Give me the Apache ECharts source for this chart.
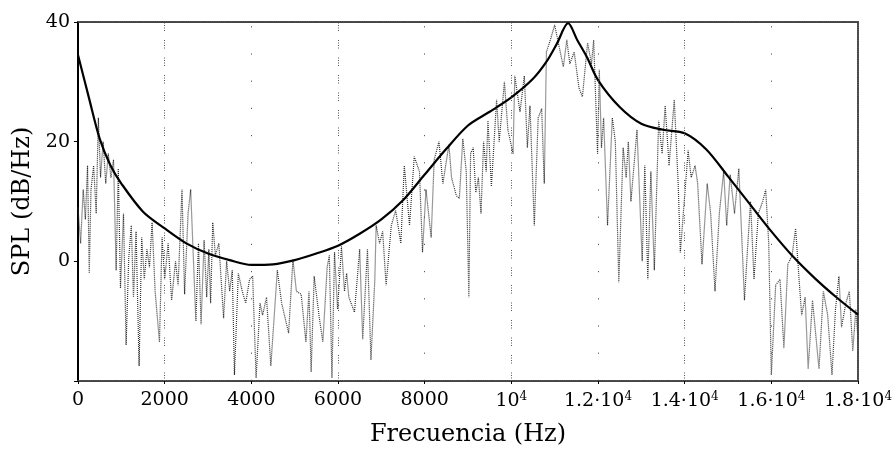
<!DOCTYPE html>
<html>
<head>
<meta charset="utf-8">
<script src="https://cdn.jsdelivr.net/npm/echarts@6/dist/echarts.min.js"></script>
<style>html,body{margin:0;padding:0;background:#fff}#c{width:896px;height:458px}</style>
</head>
<body>
<div id="c"></div>
<script>
// Smooth envelope (black curve)
const envHz = [0,250,500,750,1000,1500,2000,2500,3000,3500,4000,4500,5000,5500,6000,6500,7000,7500,8000,8500,9000,9500,10000,10500,10815,11046,11310,11520,11740,12000,12500,13000,13500,14000,14500,15000,15500,16000,16500,17000,17500,18000];
const envDb = [34.5,27.4,20.5,16,13,8.3,5.5,3,1.3,0.2,-0.6,-0.5,0.2,1.3,2.6,4.6,7,10.2,14.5,18.8,22.7,25,27.4,30.5,33.4,36.3,39.8,37,34.2,30.3,25.8,23,22,21.4,18.7,14.2,9.6,5,0.8,-2.8,-6,-8.9];

// Noisy measured spectrum (grey dotted)
const noiseHz = [0,60,120,170,220,260,300,360,420,470,520,580,640,700,760,820,880,930,980,1050,1110,1170,1230,1280,1340,1410,1470,1530,1590,1650,1710,1780,1880,1940,2000,2080,2160,2250,2310,2400,2460,2540,2600,2720,2780,2840,2910,2970,
3020,3060,3110,3170,3250,3360,3430,3500,3560,3610,3700,3790,3870,3960,4030,4110,4200,4260,4350,4450,4520,4600,4700,4780,4860,4960,5040,5150,5260,5330,5380,5450,5570,5650,5750,5800,5860,5920,
5990,6080,6150,6200,6250,6380,6500,6570,6680,6760,6850,6880,6960,7030,7110,7230,7330,7450,7530,7650,7760,7880,7950,8030,8150,8220,8330,8420,8560,8620,8730,8800,8880,8960,9020,
9060,9120,9180,9240,9300,9360,9420,9460,9540,9660,9720,9840,9920,10040,10080,10200,10300,10370,10430,10530,10620,10700,10760,10810,10900,11000,11100,11200,11280,11350,11450,11560,11640,11760,11850,11900,11990,
12030,12080,12130,12220,12330,12400,12480,12580,12650,12700,12760,12900,13020,13080,13150,13220,13300,13400,13480,13550,13640,13760,13850,13900,13990,14080,14150,14240,14300,14400,14520,14600,14700,14800,14900,14970,
15050,15150,15250,15380,15450,15520,15600,15700,15800,15870,15940,16000,16100,16200,16290,16380,16480,16560,16650,16700,16780,16850,16950,17100,17200,17300,17400,17480,17560,17620,17720,17800,17880,17950,18000];
const noiseDb = [9,3,12,7,16,-2,12,16,8,24,14,20,13,18,14,17,-1.5,15.5,-4.5,8,-14,0.5,6,-6,5,-17.5,4,-3,2,-1,6.5,-5,-13.5,4,-3,3,-6.5,0,-4,12,-5.5,8,12,-10,3,-10.5,3.5,-6,
2,-7,6.5,1,3,-9.5,0,-5,-1.5,-19,-2,-5,-7,-3,-2.5,-19.5,-7,-9,-6,-17.5,-10,-1.5,-7,-9.5,-12,0.3,-5,-5.5,-13.5,-5,-18.5,-2.5,-9.5,-13.5,-1,1,-19.5,1.5,
-8,2.5,-5,-2,-6,-8.5,2,-13,2,-16.5,-3,6,3,5,-4,6,8.5,3,16,6,17.5,15,1.5,12,4,17,20,13,19.5,14,11,10.5,20.5,15,-6,
18,19,11.5,14,8,20,15,23.5,12.5,27,20,30,22,18,31,25,31,19,26,6,24,25.5,13,35,37,39.5,36,32.5,37,33,35,29,27.5,36.5,33,37,18,
32,19,24,6,24,20,-3.5,19,14,20,10,22,0,16,-3,15,-1.5,23.5,18,26,16,27,13,1.5,10,18.5,14,16,13,-0.5,13,8,-5,8,15,6,
14.5,8,15.5,-6.5,2,10,-3,8,10,12,3,-19,-4,-3,-14.5,-0.5,1,5.5,-4,-9,-6,-18,-6.5,-18,-5,-9,-19,-8,-2.5,-11,-7,-5,-15,-8,-13];

// Axis ticks and labels
const xTickValues = [0,2000,4000,6000,8000,10000,12000,14000,16000,18000];
const xTickLabels = ['0','2000','4000','6000','8000','{m|10}{s|4}','{m|1.2·10}{s|4}','{m|1.4·10}{s|4}','{m|1.6·10}{s|4}','{m|1.8·10}{s|4}'];
const yTickValues = [-20,0,20,40];
const yTickLabels = ['','0','20','40'];
const gridDense = [2000,6000,10000,14000];
const gridSparse = [4000,8000,12000,16000];

const FONT = 'DejaVu Serif';
const chart = echarts.init(document.getElementById('c'), null, {renderer:'canvas'});
const zip = (a,b) => a.map((v,i)=>[v,b[i]]);
const border = {show:true,onZero:false,lineStyle:{color:'#444',width:2,type:[1,1.2]}};

chart.setOption({
  animation:false,
  backgroundColor:'#fff',
  grid:{left:78,right:38,top:22,bottom:77,containLabel:false},
  xAxis:[{
    type:'value',min:0,max:18000,interval:2000,position:'bottom',
    name:'Frecuencia (Hz)',nameLocation:'middle',nameGap:42,
    nameTextStyle:{fontFamily:FONT,fontSize:24,color:'#000'},
    axisLine:border,
    axisTick:{show:true,length:3,lineStyle:{color:'#000'}},
    splitLine:{show:false},
    axisLabel:{margin:10,fontFamily:FONT,fontSize:19,color:'#000',
      formatter:v=>{const i=xTickValues.indexOf(v);return i<0?'':xTickLabels[i];},
      rich:{m:{fontFamily:FONT,fontSize:19,color:'#000'},s:{fontFamily:FONT,fontSize:12,color:'#000',padding:[0,0,9,0]}}}
  },{
    type:'value',min:0,max:18000,interval:2000,position:'top',
    axisLine:border,
    axisTick:{show:false},axisLabel:{show:false},splitLine:{show:false}
  }],
  yAxis:[{
    type:'value',min:-20,max:40,interval:20,position:'left',
    name:'SPL (dB/Hz)',nameLocation:'middle',nameGap:42,
    nameTextStyle:{fontFamily:FONT,fontSize:24,color:'#000'},
    axisLine:{show:true,onZero:false,lineStyle:{color:'#000',width:2}},
    axisTick:{show:true,length:4,lineStyle:{color:'#000'}},
    splitLine:{show:false},
    axisLabel:{margin:8,fontFamily:FONT,fontSize:19,color:'#000',
      formatter:v=>{const i=yTickValues.indexOf(v);return i<0?'':yTickLabels[i];}}
  },{
    type:'value',min:-20,max:40,interval:20,position:'right',
    axisLine:border,
    axisTick:{show:false},axisLabel:{show:false},splitLine:{show:false}
  }],
  series:[{
    type:'line',name:'espectro',data:zip(noiseHz,noiseDb),
    symbol:'none',lineStyle:{color:'#333',width:1.2,type:[1,1]},
    z:2,
    markLine:{silent:true,symbol:'none',label:{show:false},
      data:gridDense.map(v=>({xAxis:v,lineStyle:{color:'#555',width:1,type:[1,1.5,1,1.5,1,1.5,1,9]}}))
        .concat(gridSparse.map(v=>({xAxis:v,lineStyle:{color:'#555',width:1,type:[1.2,26]}})))}
  },{
    type:'line',name:'envolvente',data:zip(envHz,envDb),
    symbol:'none',smooth:0.3,lineStyle:{color:'#000',width:2.2},z:3
  }]
});
</script>
</body>
</html>
